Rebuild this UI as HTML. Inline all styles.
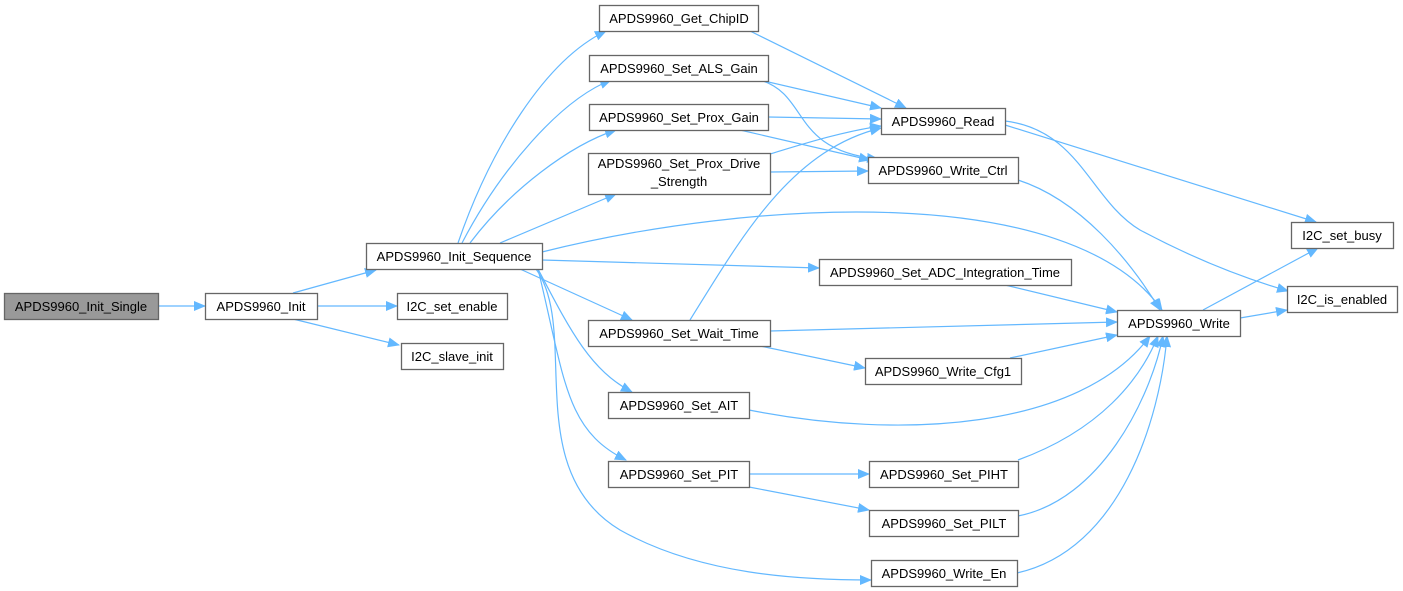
<!DOCTYPE html>
<html><head><meta charset="utf-8">
<style>
html,body{margin:0;padding:0;background:#fff;}
svg{display:block;}
text{font-family:"Liberation Sans",Arial,sans-serif;font-size:13px;fill:#000;}
.b{fill:#fff;stroke:#666;stroke-width:1.3;}
.e{fill:none;stroke:#63b8ff;stroke-width:1.2;}
</style></head><body>
<svg width="1403" height="591" viewBox="0 0 1403 591" xmlns="http://www.w3.org/2000/svg">
<defs>
<marker id="a" markerWidth="12" markerHeight="10" refX="11" refY="5" orient="auto" markerUnits="userSpaceOnUse">
<path d="M0,0 L12,5 L0,10 z" fill="#63b8ff"/>
</marker>
</defs>
<g class="e" marker-end="url(#a)">
<path d="M158,306 L205,306"/>
<path d="M293,293 L376,270"/>
<path d="M317,306 L397,306"/>
<path d="M293,319 L399,345"/>
<path d="M458,243 C490,150 545,60 606,31"/>
<path d="M462,243 C500,170 560,100 611,80"/>
<path d="M470,243 C510,190 570,145 616,130"/>
<path d="M500,243 L616,194"/>
<path d="M542,252 C750,200 1070,180 1162,310"/>
<path d="M542,260 L819,268"/>
<path d="M520,269 L632,320"/>
<path d="M538,269 C570,330 590,370 632,392"/>
<path d="M538,269 C565,380 565,430 626,460"/>
<path d="M536,269 C580,330 520,470 620,530 C700,575 800,580 871,580"/>
<path d="M750,31 L906,108"/>
<path d="M760,80 L881,108"/>
<path d="M760,80 C810,95 790,150 878,159"/>
<path d="M768,117 L881,119"/>
<path d="M740,130 L870,160"/>
<path d="M770,154 C800,145 840,132 881,126"/>
<path d="M770,172 L868,171"/>
<path d="M690,320 C740,240 790,150 881,128"/>
<path d="M770,331 L1117,322"/>
<path d="M760,346 L865,368"/>
<path d="M1010,358 L1117,335"/>
<path d="M1005,285 L1117,312"/>
<path d="M749,410 C900,440 1080,430 1150,336"/>
<path d="M749,474 L869,474"/>
<path d="M749,487 L869,510"/>
<path d="M1018,460 C1100,430 1140,380 1158,336"/>
<path d="M1018,516 C1100,500 1150,400 1163,336"/>
<path d="M1017,573 C1120,550 1160,420 1167,336"/>
<path d="M1018,180 C1080,200 1130,260 1160,310"/>
<path d="M1005,125 L1316,222"/>
<path d="M1005,121 C1080,130 1090,200 1140,230 C1200,262 1250,280 1288,291"/>
<path d="M1203,310 L1318,248"/>
<path d="M1240,318 L1287,310"/>
</g>
<g>
<rect x="4.5" y="293.5" width="154" height="26" fill="#999" stroke="#666" stroke-width="1.3"/>
<text x="81" y="311" text-anchor="middle">APDS9960_Init_Single</text>
<rect class="b" x="205.5" y="293.5" width="112" height="26"/><text x="261" y="311" text-anchor="middle">APDS9960_Init</text>
<rect class="b" x="366.5" y="243.5" width="176" height="26"/><text x="454" y="261" text-anchor="middle">APDS9960_Init_Sequence</text>
<rect class="b" x="397.5" y="293.5" width="110" height="26"/><text x="452" y="311" text-anchor="middle">I2C_set_enable</text>
<rect class="b" x="401.5" y="343.5" width="102" height="26"/><text x="452" y="361" text-anchor="middle">I2C_slave_init</text>
<rect class="b" x="599.5" y="5.5" width="159" height="26"/><text x="679" y="23" text-anchor="middle">APDS9960_Get_ChipID</text>
<rect class="b" x="589.5" y="55.5" width="179" height="26"/><text x="679" y="73" text-anchor="middle">APDS9960_Set_ALS_Gain</text>
<rect class="b" x="589.5" y="104.5" width="179" height="26"/><text x="679" y="122" text-anchor="middle">APDS9960_Set_Prox_Gain</text>
<rect class="b" x="588.5" y="153.5" width="182" height="41"/><text x="679" y="168" text-anchor="middle">APDS9960_Set_Prox_Drive</text><text x="679" y="186" text-anchor="middle">_Strength</text>
<rect class="b" x="881.5" y="108.5" width="124" height="26"/><text x="943" y="126" text-anchor="middle">APDS9960_Read</text>
<rect class="b" x="868.5" y="157.5" width="150" height="26"/><text x="943" y="175" text-anchor="middle">APDS9960_Write_Ctrl</text>
<rect class="b" x="819.5" y="259.5" width="252" height="26"/><text x="945" y="277" text-anchor="middle">APDS9960_Set_ADC_Integration_Time</text>
<rect class="b" x="588.5" y="320.5" width="182" height="26"/><text x="679" y="338" text-anchor="middle">APDS9960_Set_Wait_Time</text>
<rect class="b" x="1117.5" y="310.5" width="123" height="26"/><text x="1179" y="328" text-anchor="middle">APDS9960_Write</text>
<rect class="b" x="865.5" y="358.5" width="156" height="26"/><text x="943" y="376" text-anchor="middle">APDS9960_Write_Cfg1</text>
<rect class="b" x="608.5" y="392.5" width="141" height="26"/><text x="679" y="410" text-anchor="middle">APDS9960_Set_AIT</text>
<rect class="b" x="608.5" y="461.5" width="141" height="26"/><text x="679" y="479" text-anchor="middle">APDS9960_Set_PIT</text>
<rect class="b" x="869.5" y="461.5" width="149" height="26"/><text x="944" y="479" text-anchor="middle">APDS9960_Set_PIHT</text>
<rect class="b" x="869.5" y="510.5" width="149" height="26"/><text x="944" y="528" text-anchor="middle">APDS9960_Set_PILT</text>
<rect class="b" x="871.5" y="560.5" width="146" height="26"/><text x="944" y="578" text-anchor="middle">APDS9960_Write_En</text>
<rect class="b" x="1291.5" y="222.5" width="102" height="26"/><text x="1342" y="240" text-anchor="middle">I2C_set_busy</text>
<rect class="b" x="1287.5" y="286.5" width="110" height="26"/><text x="1342" y="304" text-anchor="middle">I2C_is_enabled</text>
</g>
</svg>
</body></html>
